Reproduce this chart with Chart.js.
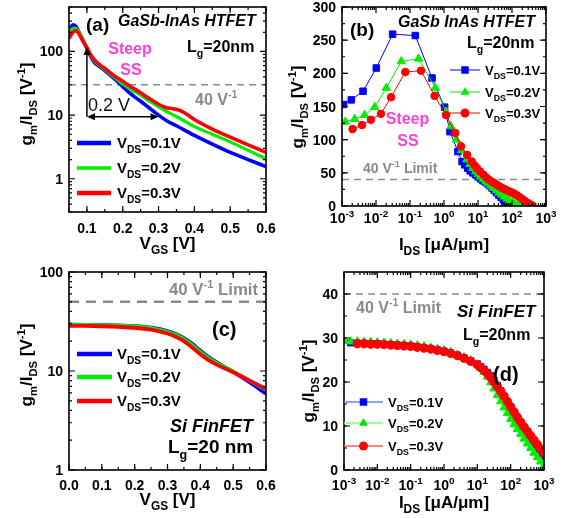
<!DOCTYPE html>
<html>
<head>
<meta charset="utf-8">
<script src="https://cdn.jsdelivr.net/npm/chart.js@4.4.1/dist/chart.umd.min.js"></script>
<style>
  body { margin: 0; background: #fff; }
  #wrap { position: relative; width: 568px; height: 518px; background: #fff; }
  canvas { position: absolute; }
</style>
</head>
<body>
<div id="wrap">
  <canvas id="cA" width="284" height="255" style="left:0;top:0"></canvas>
  <canvas id="cB" width="284" height="255" style="left:284px;top:0"></canvas>
  <canvas id="cC" width="284" height="263" style="left:0;top:255px"></canvas>
  <canvas id="cD" width="284" height="263" style="left:284px;top:255px"></canvas>
</div>
<script>
/* ---------- (a) GaSb-InAs HTFET, gm/Ids vs Vgs ---------- */
const vgsA01 = [0.05,0.055,0.062,0.07,0.08,0.09,0.1,0.11,0.12,0.135,0.15,0.175,0.2,0.225,0.25,0.275,0.3,0.325,0.35,0.4,0.45,0.5,0.55,0.6];
const gmA01  = [206,240,262,245,190,145,112,85,68,58,50,38,28,21,16.5,12.8,10,8,6.8,4.8,3.5,2.6,2.0,1.55];
const vgsA02 = [0.05,0.055,0.065,0.075,0.085,0.1,0.11,0.12,0.135,0.15,0.175,0.2,0.225,0.25,0.275,0.3,0.325,0.35,0.4,0.45,0.5,0.55,0.6];
const gmA02  = [190,215,232,215,170,115,88,72,60,52,40,31,25,20.5,16.5,13.5,11.2,9.5,6.6,5.0,3.8,2.8,2.05];
const vgsA03 = [0.05,0.055,0.068,0.075,0.085,0.1,0.11,0.12,0.135,0.15,0.175,0.2,0.225,0.25,0.275,0.3,0.32,0.34,0.36,0.38,0.4,0.45,0.5,0.55,0.6];
const gmA03  = [160,180,213,200,160,115,90,75,62,54,42,34,27.5,22.5,18,14.8,13.2,12.6,11.8,10.2,8.5,6.0,4.5,3.4,2.6];

/* ---------- (b) GaSb InAs HTFET, gm/Ids vs Ids ---------- */
const idsB01 = [0.00111,0.00188,0.00415,0.0102,0.0308,0.143,0.444,1.04,1.5,2.57,3.4,4.1,5,5.9,7,8.5,10.2,12,14,16.5,19,22,26,30,35,41,48,56,65,75,85];
const gmB01  = [153,160,173,208,259,257,193,149,112,82,67,62,57,53,50,47,44,41,38,36,33.5,30.5,27,23.5,20,16.5,13,9.5,6.5,3.5,1];
const idsB02 = [0.00125,0.00235,0.0046,0.0091,0.0201,0.0555,0.179,0.555,1.15,1.6,2.3,3.3,4.7,5.8,7,8.5,10.2,12,14.5,17,20,24,29,35,42,50,60,72,86,103,123,147,170];
const gmB02  = [127,131,137,149,178,218,222,178,142,120,100,84,70,63,57,52,48,44,40.5,37,34,30.5,27,23.5,20,17,14,11,8,5.5,3,1.2,0.3];
const idsB03 = [0.00205,0.00387,0.0071,0.014,0.0276,0.0728,0.211,0.53,1.15,2.15,3.17,4.8,6.6,8,9.3,11.5,14.6,17.5,20.5,25,30,36,43,52,63,76,92,112,135,165,200,240,290,340,390];
const gmB03  = [116,122,130,139,164,202,204,166,137,110,90,77,67,61,57,52,47,43,40,37,34.5,32,29.5,27,25,23,21,19,16.5,13.5,10.5,7.5,4.5,2.5,0.8];

/* ---------- (c) Si FinFET, gm/Ids vs Vgs ---------- */
const vgsC = [0,0.05,0.1,0.15,0.2,0.25,0.3,0.325,0.35,0.375,0.4,0.425,0.45,0.5,0.55,0.6];
const gmC01 = [29.5,29.3,29.1,28.8,28.4,27.4,25.3,23.6,21.5,18.8,16.0,13.8,12.2,9.8,7.7,5.9];
const gmC02 = [29.3,29.2,29.0,28.7,28.2,27.1,24.9,23.2,21.0,18.3,15.6,13.5,12.0,9.9,8.0,6.5];
const gmC03 = [28.6,28.5,28.3,27.9,27.3,26.2,23.9,22.2,20.0,17.3,14.8,12.9,11.6,9.7,8.0,6.6];

/* ---------- (d) Si FinFET, gm/Ids vs Ids ---------- */
const idsD = [0.001,0.00158,0.00251,0.00398,0.00631,0.01,0.0158,0.0251,0.0398,0.0631,0.1,0.158,0.251,0.398,0.631,1,1.58,2.51,3.98,6.31,
              10,12.6,15.8,20,25.1,31.6,39.8,50.1,63.1,79.4,100,126,158,200,251,316,398,501,631,794,1000];
const gmD01 = [null,28.9,28.8,28.8,28.7,28.7,28.6,28.5,28.4,28.3,28.2,28.0,27.8,27.6,27.3,27.0,26.6,26.1,25.5,24.8,
               24.1,23.5,22.9,22.2,21.4,20.4,19.2,18.0,16.7,15.4,14.0,12.7,11.4,10.2,9.0,7.9,6.8,5.7,4.7,3.6,2.6];
const gmD02 = [29.3,29.2,29.2,29.1,29.1,29.0,28.9,28.8,28.7,28.6,28.5,28.3,28.1,27.8,27.5,27.2,26.8,26.2,25.6,24.9,
               24.0,23.2,22.3,21.2,19.9,18.5,17.0,15.6,14.2,12.9,11.6,10.4,9.3,8.2,7.1,6.0,5.0,3.9,2.9,1.9,1.0];
const gmD03 = [null,null,28.7,28.7,28.6,28.6,28.5,28.4,28.3,28.2,28.1,27.9,27.7,27.5,27.2,26.9,26.5,26.0,25.4,24.7,
               23.9,23.3,22.6,21.9,21.0,20.0,19.0,17.9,16.8,15.6,14.4,13.2,12.0,10.9,9.8,8.8,7.8,6.8,5.8,4.8,3.9];

/* ---------- ticks / labels ---------- */
const vdsLabels = ['V_{DS}=0.1V', 'V_{DS}=0.2V', 'V_{DS}=0.3V'];
const ticksVgsA = [0.1,0.2,0.3,0.4,0.5,0.6];
const ticksVgsC = [0,0.1,0.2,0.3,0.4,0.5,0.6];
const labVgsC   = ['0.0','0.1','0.2','0.3','0.4','0.5','0.6'];
const ticksDec  = [0.001,0.01,0.1,1,10,100,1000];
const labDec    = ['10^{-3}','10^{-2}','10^{-1}','10^{0}','10^{1}','10^{2}','10^{3}'];
const ticksLogY = [1,10,100];
const ticksB_Y  = [0,50,100,150,200,250,300];
const ticksD_Y  = [0,10,20,30,40];

const FONT = '"Liberation Sans", Arial, sans-serif';
const BLUE = '#0000ff', GREEN = '#00ee00', RED = '#ff0000';
const GRAY = '#8a8a8a', MAGENTA = '#ff3fd6';

/* =========================================================
   TEXTE AVEC INDICES / EXPOSANTS
========================================================= */
function segs(str) {
  const out = [];
  let buf = '', i = 0;
  while (i < str.length) {
    const c = str[i];
    if ((c === '_' || c === '^') && str[i + 1] === '{') {
      if (buf) { out.push({ t: buf, k: 0 }); buf = ''; }
      const end = str.indexOf('}', i);
      out.push({ t: str.slice(i + 2, end), k: c === '_' ? 1 : 2 });
      i = end + 1;
    } else { buf += c; i++; }
  }
  if (buf) out.push({ t: buf, k: 0 });
  return out;
}

function rich(ctx, str, x, y, size, o = {}) {
  const style = o.style || 'bold';
  const ss = o.ss || 0.66;
  const parts = segs(str);
  let w = 0;
  parts.forEach(p => {
    p.fs = p.k ? size * ss : size;
    ctx.font = `${style} ${p.fs}px ${FONT}`;
    p.w = ctx.measureText(p.t).width;
    w += p.w;
  });
  let cx = o.align === 'center' ? x - w / 2 : o.align === 'right' ? x - w : x;
  ctx.fillStyle = o.color || '#000';
  ctx.textAlign = 'left';
  ctx.textBaseline = 'alphabetic';
  parts.forEach(p => {
    ctx.font = `${style} ${p.fs}px ${FONT}`;
    const dy = p.k === 1 ? size * 0.3 : p.k === 2 ? -size * 0.42 : 0;
    ctx.fillText(p.t, cx, y + dy);
    cx += p.w;
  });
}

function richV(ctx, str, x, y, size) {
  ctx.save();
  ctx.translate(x, y);
  ctx.rotate(-Math.PI / 2);
  rich(ctx, str, 0, 0, size, { align: 'center' });
  ctx.restore();
}

function logMinors(lo, hi) {
  const out = [];
  for (let e = Math.floor(Math.log10(lo)); e <= Math.ceil(Math.log10(hi)); e++)
    for (let m = 2; m <= 9; m++) {
      const v = m * Math.pow(10, e);
      if (v >= lo * 0.999 && v <= hi * 1.001) out.push(v);
    }
  return out;
}
function linMinors(lo, hi, step) {
  const out = [];
  for (let v = lo; v <= hi + 1e-9; v += step) out.push(+v.toFixed(6));
  return out;
}

function marker(ctx, style, x, y, r, col) {
  ctx.fillStyle = col;
  ctx.beginPath();
  if (style === 'rect') {
    const s = r * 0.75;
    ctx.rect(x - s, y - s, 2 * s, 2 * s);
  } else if (style === 'triangle') {
    ctx.moveTo(x, y - r);
    ctx.lineTo(x + r * 0.9, y + r * 0.55);
    ctx.lineTo(x - r * 0.9, y + r * 0.55);
    ctx.closePath();
  } else {
    ctx.arc(x, y, r * 0.9, 0, Math.PI * 2);
  }
  ctx.fill();
}

function arrowHead(ctx, x, y, ang) {
  const L = 8, W = 3.5;
  ctx.beginPath();
  ctx.moveTo(x, y);
  ctx.lineTo(x - L * Math.cos(ang) - W * Math.sin(ang), y - L * Math.sin(ang) + W * Math.cos(ang));
  ctx.lineTo(x - L * Math.cos(ang) + W * Math.sin(ang), y - L * Math.sin(ang) - W * Math.cos(ang));
  ctx.closePath();
  ctx.fill();
}

/* =========================================================
   CADRE, GRADUATIONS, TEXTES
========================================================= */
function decoPlugin(sp) {
  return {
    id: 'deco',
    beforeDatasetsDraw(chart) {
      const { ctx, chartArea: a, scales: { y } } = chart;
      if (!sp.limit) return;
      const py = y.getPixelForValue(sp.limit.v);
      ctx.save();
      ctx.strokeStyle = GRAY;
      ctx.lineWidth = sp.limit.w;
      ctx.setLineDash(sp.limit.dash);
      ctx.beginPath();
      ctx.moveTo(a.left, py);
      ctx.lineTo(a.right, py);
      ctx.stroke();
      ctx.restore();
    },
    afterDraw(chart) {
      const { ctx, chartArea: a, scales: { x, y } } = chart;
      ctx.save();

      // ticks on the four sides, pointing inward
      ctx.strokeStyle = '#000';
      ctx.lineWidth = 1.2;
      const tx = (vals, len) => vals.forEach(v => {
        const p = x.getPixelForValue(v);
        if (p < a.left - 0.5 || p > a.right + 0.5) return;
        ctx.beginPath();
        ctx.moveTo(p, a.bottom); ctx.lineTo(p, a.bottom - len);
        ctx.moveTo(p, a.top); ctx.lineTo(p, a.top + len);
        ctx.stroke();
      });
      const ty = (vals, len) => vals.forEach(v => {
        const p = y.getPixelForValue(v);
        if (p < a.top - 0.5 || p > a.bottom + 0.5) return;
        ctx.beginPath();
        ctx.moveTo(a.left, p); ctx.lineTo(a.left + len, p);
        ctx.moveTo(a.right, p); ctx.lineTo(a.right - len, p);
        ctx.stroke();
      });
      tx(sp.xMinor, 3); tx(sp.xMaj, 6);
      ty(sp.yMinor, 3); ty(sp.yMaj, 6);

      ctx.lineWidth = 1.6;
      ctx.strokeRect(a.left, a.top, a.right - a.left, a.bottom - a.top);

      // tick labels
      sp.xMaj.forEach((v, i) => rich(ctx, sp.xLab[i], x.getPixelForValue(v), a.bottom + sp.xLabDy, 14, { align: 'center', ss: 0.7 }));
      sp.yMaj.forEach((v, i) => rich(ctx, sp.yLab[i], a.left - 6, y.getPixelForValue(v) + 5, 14, { align: 'right' }));

      // axis titles
      rich(ctx, sp.xTitle, (a.left + a.right) / 2, sp.xTitleY, 17, { align: 'center', ss: 0.7 });
      richV(ctx, sp.yTitle, sp.yTitleX, sp.yTitleY, 17);

      // free texts
      sp.texts.forEach(t => rich(ctx, t.s, t.x, t.y, t.size, t));

      // legend
      const lg = sp.legend;
      lg.rows.forEach((ry, i) => {
        const col = lg.colors[i];
        ctx.strokeStyle = lg.lineColors ? lg.lineColors[i] : col;
        ctx.lineWidth = lg.lw[i];
        ctx.beginPath();
        ctx.moveTo(lg.x1, ry); ctx.lineTo(lg.x2, ry);
        ctx.stroke();
        if (lg.markers) marker(ctx, lg.markers[i], (lg.x1 + lg.x2) / 2, ry, 5, col);
        rich(ctx, vdsLabels[i], lg.tx, ry + lg.size * 0.36, lg.size, { ss: 0.68 });
      });

      if (sp.extra) sp.extra(chart);
      ctx.restore();
    }
  };
}

function lineSet(xs, ys, col, w, order) {
  return {
    data: xs.map((v, i) => ({ x: v, y: ys[i] })),
    showLine: true, borderColor: col, borderWidth: w,
    pointRadius: 0, cubicInterpolationMode: 'monotone', order
  };
}
function markSet(xs, ys, col, style, r, order) {
  return {
    data: xs.map((v, i) => ({ x: v, y: ys[i] })),
    showLine: true, borderColor: col, borderWidth: 1,
    pointStyle: style, pointRadius: r, pointBackgroundColor: col,
    pointBorderColor: col, pointBorderWidth: 1, order
  };
}

function makeChart(id, datasets, pad, xs, ys, sp) {
  return new Chart(document.getElementById(id), {
    type: 'scatter',
    data: { datasets },
    options: {
      responsive: false,
      animation: false,
      devicePixelRatio: 1,
      layout: { padding: pad },
      plugins: { legend: { display: false }, tooltip: { enabled: false } },
      scales: {
        x: Object.assign({ display: false }, xs),
        y: Object.assign({ display: false }, ys)
      }
    },
    plugins: [decoPlugin(sp)]
  });
}

/* ---------- (a) ---------- */
makeChart('cA',
  [lineSet(vgsA01, gmA01, BLUE, 3.6, 3), lineSet(vgsA02, gmA02, GREEN, 3.2, 2), lineSet(vgsA03, gmA03, RED, 3.6, 1)],
  { left: 69, top: 7, right: 18, bottom: 43 },
  { type: 'linear', min: 0.05, max: 0.6 },
  { type: 'logarithmic', min: 0.3, max: 500 },
  {
    xMaj: ticksVgsA, xLab: ticksVgsA.map(String), xMinor: linMinors(0.05, 0.6, 0.05), xLabDy: 21,
    yMaj: ticksLogY, yLab: ticksLogY.map(String), yMinor: logMinors(0.3, 500),
    xTitle: 'V_{GS} [V]', xTitleY: 249,
    yTitle: 'g_{m}/I_{DS} [V^{-1}]', yTitleX: 32, yTitleY: 104,
    limit: { v: 30, w: 1.5, dash: [7, 5] },
    texts: [
      { s: '(a)', x: 86, y: 31, size: 19 },
      { s: 'GaSb-InAs HTFET', x: 118, y: 26, size: 16, style: 'italic bold' },
      { s: 'L_{g}=20nm', x: 187, y: 52, size: 16 },
      { s: 'Steep', x: 130, y: 54, size: 16, align: 'center', color: MAGENTA },
      { s: 'SS', x: 131, y: 75, size: 16, align: 'center', color: MAGENTA },
      { s: '40 V^{-1}', x: 195, y: 105, size: 16, color: GRAY },
      { s: '0.2 V', x: 88, y: 111, size: 18, style: 'normal', color: '#111' }
    ],
    legend: { rows: [143, 168, 193], x1: 77, x2: 111, tx: 117, size: 15, colors: [BLUE, GREEN, RED], lw: [4.5, 3.5, 4.5] },
    extra(chart) {
      const { ctx, scales: { x, y } } = chart;
      const x0 = x.getPixelForValue(0.1), x1 = x.getPixelForValue(0.3);
      const y0 = y.getPixelForValue(9.4), y1 = y.getPixelForValue(118);
      ctx.strokeStyle = '#000'; ctx.fillStyle = '#000'; ctx.lineWidth = 1.5;
      ctx.beginPath();
      ctx.moveTo(x0, y0); ctx.lineTo(x0, y1 + 4);
      ctx.moveTo(x0 + 4, y0); ctx.lineTo(x1 - 4, y0);
      ctx.stroke();
      arrowHead(ctx, x0, y1, -Math.PI / 2);
      arrowHead(ctx, x1, y0, 0);
      arrowHead(ctx, x0, y0, Math.PI);
    }
  });

/* ---------- (b) ---------- */
makeChart('cB',
  [markSet(idsB01, gmB01, BLUE, 'rect', 4.6, 3), markSet(idsB02, gmB02, GREEN, 'triangle', 4.8, 2), markSet(idsB03, gmB03, RED, 'circle', 3.8, 1)],
  { left: 58, top: 7, right: 22, bottom: 49 },
  { type: 'logarithmic', min: 0.001, max: 1000 },
  { type: 'linear', min: 0, max: 300 },
  {
    xMaj: ticksDec, xLab: labDec, xMinor: logMinors(0.001, 1000), xLabDy: 17,
    yMaj: ticksB_Y, yLab: ticksB_Y.map(String), yMinor: linMinors(0, 300, 25),
    xTitle: 'I_{DS} [μA/μm]', xTitleY: 250,
    yTitle: 'g_{m}/I_{DS} [V^{-1}]', yTitleX: 19, yTitleY: 107,
    limit: { v: 40, w: 1.5, dash: [7, 5] },
    texts: [
      { s: '(b)', x: 66, y: 36, size: 19 },
      { s: 'GaSb InAs HTFET', x: 114, y: 27, size: 16, style: 'italic bold' },
      { s: 'L_{g}=20nm', x: 183, y: 48, size: 16 },
      { s: 'Steep', x: 123.5, y: 124, size: 16, align: 'center', color: MAGENTA },
      { s: 'SS', x: 124, y: 146, size: 16, align: 'center', color: MAGENTA },
      { s: '40 V^{-1} Limit', x: 79, y: 173, size: 14, color: GRAY }
    ],
    legend: { rows: [70, 92, 113], x1: 166, x2: 196, tx: 201, size: 13, colors: [BLUE, GREEN, RED],
              markers: ['rect', 'triangle', 'circle'], lw: [1, 1, 1] }
  });

/* ---------- (c) ---------- */
makeChart('cC',
  [lineSet(vgsC, gmC01, BLUE, 3.8, 3), lineSet(vgsC, gmC02, GREEN, 3.8, 2), lineSet(vgsC, gmC03, RED, 3.8, 1)],
  { left: 69, top: 17, right: 18, bottom: 48 },
  { type: 'linear', min: 0, max: 0.6 },
  { type: 'logarithmic', min: 1, max: 100 },
  {
    xMaj: ticksVgsC, xLab: labVgsC, xMinor: linMinors(0, 0.6, 0.05), xLabDy: 20,
    yMaj: ticksLogY, yLab: ticksLogY.map(String), yMinor: logMinors(1, 100),
    xTitle: 'V_{GS} [V]', xTitleY: 250,
    yTitle: 'g_{m}/I_{DS} [V^{-1}]', yTitleX: 32, yTitleY: 110,
    limit: { v: 50, w: 2.5, dash: [10, 7] },
    texts: [
      { s: '40 V^{-1} Limit', x: 169, y: 40, size: 16.8, color: GRAY },
      { s: '(c)', x: 212, y: 81, size: 20 },
      { s: 'Si FinFET', x: 170, y: 177, size: 18, style: 'italic bold' },
      { s: 'L_{g}=20 nm', x: 168, y: 198, size: 19 }
    ],
    legend: { rows: [99, 122, 146], x1: 77, x2: 112, tx: 117, size: 15, colors: [BLUE, GREEN, RED], lw: [4.5, 4.5, 4.5] }
  });

/* ---------- (d) ---------- */
makeChart('cD',
  [markSet(idsD, gmD01, BLUE, 'rect', 4.4, 3), markSet(idsD, gmD02, GREEN, 'triangle', 4.8, 2), markSet(idsD, gmD03, RED, 'circle', 4.2, 1)],
  { left: 60, top: 17, right: 24, bottom: 48 },
  { type: 'logarithmic', min: 0.001, max: 1000 },
  { type: 'linear', min: 0, max: 45 },
  {
    xMaj: ticksDec, xLab: labDec, xMinor: logMinors(0.001, 1000), xLabDy: 20,
    yMaj: ticksD_Y, yLab: ticksD_Y.map(String), yMinor: linMinors(0, 40, 5),
    xTitle: 'I_{DS} [μA/μm]', xTitleY: 253,
    yTitle: 'g_{m}/I_{DS} [V^{-1}]', yTitleX: 30, yTitleY: 126,
    limit: { v: 40, w: 1.5, dash: [7, 5] },
    texts: [
      { s: '40 V^{-1} Limit', x: 72, y: 58, size: 16, color: GRAY },
      { s: 'Si FinFET', x: 173, y: 62, size: 17, style: 'italic bold' },
      { s: 'L_{g}=20nm', x: 179, y: 85, size: 16 },
      { s: '(d)', x: 209, y: 126, size: 20 }
    ],
    legend: { rows: [147, 168, 191], x1: 60, x2: 99, tx: 104, size: 13, colors: [BLUE, '#00dd00', RED],
              lineColors: ['#6a86ff', '#7cff7c', '#ff5a5a'], markers: ['rect', 'triangle', 'circle'], lw: [1.5, 1.5, 1.5] }
  });
</script>
</body>
</html>
